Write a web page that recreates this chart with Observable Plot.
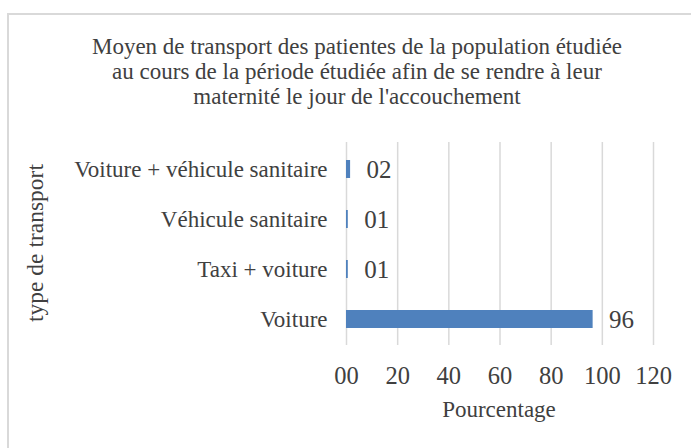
<!DOCTYPE html>
<html>
<head>
<meta charset="utf-8">
<script src="https://cdn.jsdelivr.net/npm/d3@7"></script>
<script src="https://cdn.jsdelivr.net/npm/@observablehq/plot@0.6"></script>
<style>
  body { margin: 0; background: #fff; }
  #wrap { position: relative; width: 691px; height: 448px; overflow: hidden; background: #fff;
          font-family: "Liberation Serif", serif; color: #404040; }
  #wrap svg { position: absolute; left: 0; top: 0; background: transparent; }
  .bt { position: absolute; left: 7px; top: 12.5px; width: 684px; height: 2px; background: #d9d9d9; z-index: 2; }
  .bl { position: absolute; left: 7px; top: 12.5px; width: 2px; height: 436px; background: #d9d9d9; z-index: 2; }
  #title { position: absolute; left: 37px; width: 640px; top: 34px; text-align: center;
           font-size: 23px; line-height: 25px; z-index: 2; }
  #xlabel { position: absolute; left: 399px; width: 200px; top: 398px; text-align: center; font-size: 23px; line-height: 24px; z-index: 2; }
  #ylabel { position: absolute; left: 35px; top: 243px; transform: translate(-50%, -50%) rotate(-90deg);
            white-space: nowrap; font-size: 23.5px; line-height: 24px; z-index: 2; }
</style>
</head>
<body>
<div id="wrap">
  <div class="bt"></div><div class="bl"></div>
  <div id="title"></div>
  <div id="xlabel"></div>
  <div id="ylabel"></div>
</div>
<script>
const titleLines = [
  "Moyen de transport des patientes de la population étudiée",
  "au cours de la période étudiée afin de se rendre à leur",
  "maternité le jour de l'accouchement"
];
const xTitle = "Pourcentage";
const yTitle = "type de transport";
const categories = ["Voiture + véhicule sanitaire", "Véhicule sanitaire", "Taxi + voiture", "Voiture"];
const values = [1.6, 0.7, 0.7, 96.4];
const xTicks = [0, 20, 40, 60, 80, 100, 120];

const data = categories.map((c, i) => ({category: c, value: values[i]}));
const fmt = d3.format("02.0f");

document.getElementById("title").innerHTML = titleLines.join("<br>");
document.getElementById("xlabel").textContent = xTitle;
document.getElementById("ylabel").textContent = yTitle;

const chart = Plot.plot({
  width: 691,
  height: 448,
  marginLeft: 346,
  marginRight: 38,
  marginTop: 142,
  marginBottom: 103,
  style: {fontFamily: "Liberation Serif", fontSize: "23px", color: "#404040", background: "transparent"},
  x: {domain: [0, 120]},
  y: {domain: categories, paddingInner: 0.645, paddingOuter: 0.3225},
  marks: [
    Plot.ruleX(xTicks, {stroke: "#d9d9d9", strokeWidth: 1.5}),
    Plot.barX(data, {x: "value", y: "category", fill: "#4f81bd"}),
    Plot.text(data, {x: "value", y: "category", text: d => fmt(d.value), textAnchor: "start", dx: 16, fontSize: 25, fill: "#404040"}),
    Plot.axisY({tickSize: 0, tickPadding: 19, fontSize: 23, label: null}),
    Plot.axisX({ticks: xTicks, tickSize: 0, tickPadding: 21, tickFormat: fmt, fontSize: 24.5, label: null})
  ]
});
document.getElementById("wrap").appendChild(chart);
</script>
</body>
</html>
